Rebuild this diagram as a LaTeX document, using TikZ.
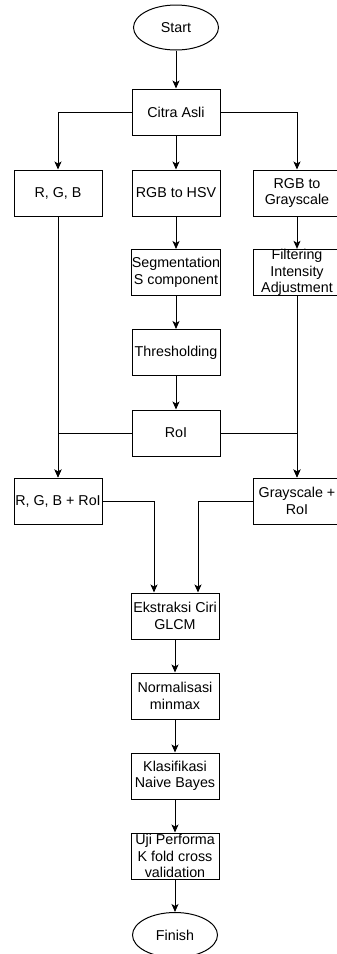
\documentclass[tikz,border=0pt]{standalone}
\usepackage{fontspec}
\setmainfont{Liberation Sans}
\usetikzlibrary{shapes.geometric, arrows.meta}
\tikzstyle{startstop} = [ellipse, minimum width=85pt, minimum height=45pt, inner sep=0pt, draw=black, line width=1pt, font=\fontsize{14.3}{16.5}\selectfont]
\tikzstyle{process} = [rectangle, minimum width=88pt, minimum height=46pt, inner sep=0pt, align=center, draw=black, line width=1pt, font=\fontsize{14.3}{16.5}\selectfont]
\tikzstyle{arrow} = [line width=1pt, -{Stealth[length=8pt,width=7pt,inset=2pt]}]

\begin{document}
\begin{tikzpicture}[x=1pt,y=-1pt]
		\useasboundingbox (0,0) rectangle (337,954);
		\clip (0,0) rectangle (337,954);
		
		%Top
		\node[startstop] (start) at (176,27.5) {Start};
		\node[process] (citra) at (176,112) {Citra Asli};
		
		%Left branch
		\node[process] (rgb) at (58,193) {R, G, B};
		\node[process] (rgbroi) at (58,501) {R, G, B + RoI};
		
		%Middle branch
		\node[process] (hsv) at (176,193) {RGB to HSV};
		\node[process] (seg) at (176,272.5) {Segmentation\\S component};
		\node[process] (thresh) at (176,352.5) {Thresholding};
		\node[process] (roi) at (176,433) {RoI};
		
		%Right branch
		\node[process] (gray) at (297,193) {RGB to\\Grayscale};
		\node[process] (filter) at (297,272.5) {Filtering\\Intensity\\Adjustment};
		\node[process] (grayroi) at (297,501) {Grayscale +\\RoI};
		
		%Bottom
		\node[process] (glcm) at (175,616) {Ekstraksi Ciri\\GLCM};
		\node[process] (norm) at (175,696) {Normalisasi\\minmax};
		\node[process] (nb) at (175,776) {Klasifikasi\\Naive Bayes};
		\node[process] (kfold) at (175,856) {Uji Performa\\K fold cross\\validation};
		\node[startstop] (finish) at (175,935) {Finish};
		
		%connections
		\draw[arrow] (start) -- (citra);
		\draw[arrow] (citra.west) -| (rgb.north);
		\draw[arrow] (citra) -- (hsv);
		\draw[arrow] (citra.east) -| (gray.north);
		
		\draw[arrow] (hsv) -- (seg);
		\draw[arrow] (seg) -- (thresh);
		\draw[arrow] (thresh) -- (roi);
		\draw[arrow] (gray) -- (filter);
		
		%RoI merge
		\draw[arrow] (rgb) -- (rgbroi);
		\draw[arrow] (roi.west) -| (rgbroi.north);
		\draw[arrow] (filter) -- (grayroi);
		\draw[arrow] (roi.east) -| (grayroi.north);
		
		%Feature extraction
		\draw[arrow] (rgbroi.east) -| ([xshift=-21pt]glcm.north);
		\draw[arrow] (grayroi.west) -| ([xshift=23pt]glcm.north);
		\draw[arrow] (glcm) -- (norm);
		\draw[arrow] (norm) -- (nb);
		\draw[arrow] (nb) -- (kfold);
		\draw[arrow] (kfold) -- (finish);
		
	\end{tikzpicture}
\end{document}
